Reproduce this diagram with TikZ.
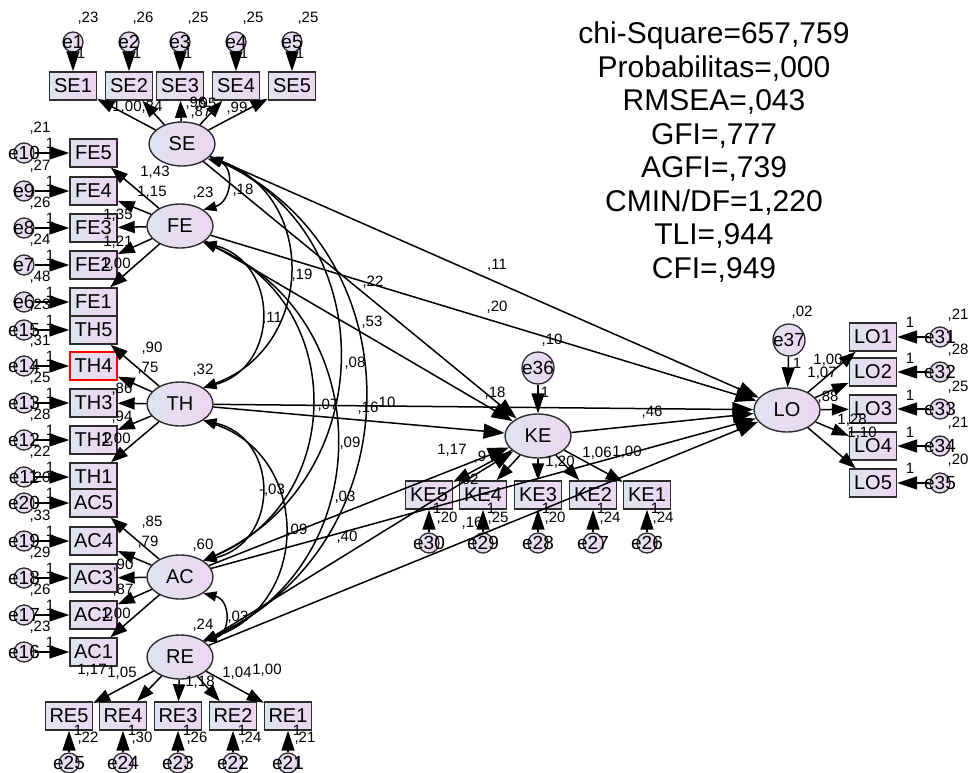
\documentclass[tikz,border=0pt]{standalone}
\usepackage{fontspec}
\setmainfont{Liberation Sans}
\usetikzlibrary{arrows.meta,shapes.geometric}

\definecolor{fillA}{RGB}{224,227,240}
\definecolor{fillB}{RGB}{236,214,241}
\definecolor{rimgray}{RGB}{45,45,45}

\tikzset{
  obsbox/.style={draw=rimgray, line width=1.4pt, left color=fillA, right color=fillB,
    minimum width=47pt, minimum height=28pt, inner sep=0pt, font=\fontsize{20}{20}\selectfont},
  latent/.style={ellipse, draw=rimgray, line width=1.4pt, left color=fillA, right color=fillB,
    minimum width=66pt, minimum height=44pt, inner sep=0pt, font=\fontsize{20}{20}\selectfont},
  errc/.style={circle, draw=rimgray, line width=1.3pt, left color=fillA, right color=fillB,
    minimum size=20pt, inner sep=0pt},
  bigerr/.style={errc, minimum size=32pt},
  errtxt/.style={font=\fontsize{19}{19}\selectfont, inner sep=0pt},
  est/.style={font=\fontsize{15}{15}\selectfont, inner sep=0pt},
  fitstat/.style={align=center, font=\fontsize{30}{33.5}\selectfont},
  reg/.style={line width=1.5pt, -{Triangle[length=17pt,width=12pt]}},
  errarr/.style={line width=1.5pt, -{Triangle[length=20pt,width=13pt]}},
  pathto/.style={line width=1.5pt, -{Triangle[length=21pt,width=15pt]}},
  cov/.style={line width=1.5pt, {Triangle[length=13pt,width=10pt]}-{Triangle[length=13pt,width=10pt]}}
}

\begin{document}
\begin{tikzpicture}[x=1pt,y=-1pt]
\useasboundingbox (0,0) rectangle (971,773);

% model fit
\node[fitstat] (gof) at (714,152) {chi-Square=657,759\\Probabilitas=,000\\RMSEA=,043\\GFI=,777\\AGFI=,739\\CMIN/DF=1,220\\TLI=,944\\CFI=,949};

% latent variables
\node[latent] (SE) at (182,144) {SE};
\node[latent] (FE) at (180,226) {FE};
\node[latent] (TH) at (180,404) {TH};
\node[latent] (AC) at (180,577) {AC};
\node[latent] (RE) at (180,657) {RE};
\node[latent] (KE) at (538,436) {KE};
\node[latent] (LO) at (787,410) {LO};
\node[bigerr, label={[errtxt]center:e36}] (e36) at (538,368) {};
\node[bigerr, label={[errtxt]center:e37}] (e37) at (789,340) {};

% indicators
\foreach \nm/\px/\er in {SE1/73/e1, SE2/129/e2, SE3/180/e3, SE4/236/e4, SE5/292/e5} {
  \node[obsbox] (\nm) at (\px,86) {\nm};
  \node[errc, label={[errtxt]center:\er}] (\er) at (\px,42) {};
}
\foreach \nm/\py/\er in {FE5/153/e10, FE4/191/e9, FE3/228/e8, FE2/265/e7, FE1/302/e6,
    TH5/330/e15, TH3/403/e13, TH2/440/e12, TH1/477/e11,
    AC5/503/e20, AC4/541/e19, AC3/578/e18, AC2/615/e17, AC1/652/e16} {
  \node[obsbox] (\nm) at (93.5,\py) {\nm};
  \node[errc, label={[errtxt]center:\er}] (\er) at (24,\py) {};
}
\node[obsbox, draw=red] (TH4) at (93.5,366) {TH4};
\node[errc, label={[errtxt]center:e14}] (e14) at (24,366) {};
\foreach \nm/\px/\er in {RE5/69/e25, RE4/123/e24, RE3/178/e23, RE2/233/e22, RE1/288/e21} {
  \node[obsbox] (\nm) at (\px,716) {\nm};
  \node[errc, label={[errtxt]center:\er}] (\er) at (\px,763) {};
}
\foreach \nm/\px/\er in {KE5/429/e30, KE4/483/e29, KE3/538/e28, KE2/593/e27, KE1/647/e26} {
  \node[obsbox] (\nm) at (\px,495) {\nm};
  \node[errc, label={[errtxt]center:\er}] (\er) at (\px,543) {};
}
\foreach \nm/\py/\er in {LO1/337/e31, LO2/372/e32, LO3/409/e33, LO4/446/e34, LO5/483/e35} {
  \node[obsbox] (\nm) at (873,\py) {\nm};
  \node[errc, label={[errtxt]center:\er}] (\er) at (940,\py) {};
}

% estimates
\foreach \px/\py/\txt [count=\i] in {
    88/18/{,23}, 143/18/{,26}, 198/18/{,25}, 253/18/{,25}, 308/18/{,25},
    81/53/1, 137/53/1, 188/53/1, 244/53/1, 300/53/1,
    127/107/{1,00}, 152/107/{,84}, 196/103/{,96}, 206/104/{,95}, 201/112/{,87}, 237/108/{,99},
    40/128/{,21}, 40/166/{,27}, 40/203/{,26}, 40/240/{,24}, 40/277/{,48},
    40/305/{,23}, 40/341/{,31}, 40/378/{,25}, 40/415/{,28}, 40/452/{,22},
    40/478/{,20}, 40/516/{,33}, 40/553/{,29}, 40/590/{,26}, 40/627/{,23},
    50/143/1, 50/181/1, 50/218/1, 50/255/1, 50/292/1,
    50/320/1, 50/356/1, 50/393/1, 50/430/1, 50/467/1,
    50/493/1, 50/531/1, 50/568/1, 50/605/1, 50/642/1}
  \node[est] (a\i) at (\px,\py) {\txt};

\foreach \px/\py/\txt [count=\i] in {
    155/172/{1,43}, 152/192/{1,15}, 118/215/{1,35}, 118/242/{1,21}, 116/264/{1,00},
    203/193/{,23}, 243/190/{,18},
    152/348/{,90}, 148/368/{,75}, 122/389/{,86}, 122/417/{,94}, 116/439/{1,00}, 203/370/{,32},
    152/522/{,85}, 148/542/{,79}, 123/565/{,90}, 123/590/{,87}, 116/614/{1,00}, 203/545/{,60},
    203/625/{,24}, 238/617/{,03},
    92/670/{1,17}, 122/673/{1,05}, 200/682/{1,18}, 237/673/{1,04}, 267/670/{1,00},
    88/738/{,22}, 142/738/{,30}, 197/738/{,26}, 251/738/{,24}, 305/738/{,21},
    78/730/1, 132/730/1, 187/730/1, 242/730/1, 297/730/1}
  \node[est] (b\i) at (\px,\py) {\txt};

\foreach \px/\py/\txt [count=\i] in {
    497/265/{,11}, 497/307/{,20}, 373/282/{,22}, 372/322/{,53}, 302/275/{,19}, 272/318/{,11},
    355/363/{,08}, 328/405/{,07}, 368/408/{,16}, 385/403/{,10}, 350/443/{,09},
    272/490/{-,03}, 345/497/{,03}, 297/530/{,09}, 347/537/{,40},
    545/392/1, 552/340/{,10}, 495/393/{,18}, 652/412/{,46},
    452/450/{1,17}, 480/457/{,9}, 468/480/{,02}, 560/462/{1,20}, 597/453/{1,06}, 627/452/{1,00},
    447/518/{,20}, 472/523/{,16}, 498/518/{,25}, 555/518/{,20}, 610/518/{,24}, 663/518/{,24},
    437/508/1, 491/508/1, 546/508/1, 601/508/1, 655/508/1,
    802/312/{,02}, 797/363/1, 828/360/{1,00}, 822/373/{1,07}, 828/397/{,88},
    852/420/{1,28}, 862/433/{1,10},
    958/315/{,21}, 958/350/{,28}, 958/387/{,25}, 958/423/{,21}, 958/460/{,20},
    910/322/1, 910/358/1, 910/395/1, 910/432/1, 910/468/1}
  \node[est] (c\i) at (\px,\py) {\txt};

% loadings and error terms
\foreach \lv/\a/\b/\c/\d/\e in {SE/SE1/SE2/SE3/SE4/SE5, FE/FE5/FE4/FE3/FE2/FE1,
    TH/TH5/TH4/TH3/TH2/TH1, AC/AC5/AC4/AC3/AC2/AC1, RE/RE5/RE4/RE3/RE2/RE1,
    KE/KE5/KE4/KE3/KE2/KE1, LO/LO1/LO2/LO3/LO4/LO5}
  \foreach \ind in {\a,\b,\c,\d,\e}
    \draw[reg] (\lv) -- (\ind);
\foreach \er/\ind in {e1/SE1, e2/SE2, e3/SE3, e4/SE4, e5/SE5,
    e10/FE5, e9/FE4, e8/FE3, e7/FE2, e6/FE1, e15/TH5, e14/TH4, e13/TH3, e12/TH2, e11/TH1,
    e20/AC5, e19/AC4, e18/AC3, e17/AC2, e16/AC1, e25/RE5, e24/RE4, e23/RE3, e22/RE2, e21/RE1,
    e30/KE5, e29/KE4, e28/KE3, e27/KE2, e26/KE1, e31/LO1, e32/LO2, e33/LO3, e34/LO4, e35/LO5,
    e36/KE, e37/LO}
  \draw[errarr] (\er) -- (\ind);

% covariances
\draw[cov] (SE.-30) .. controls (235,166) and (232,202) .. (FE.35);
\draw[cov] (SE.-25) .. controls (319,197) and (314,348) .. (TH.35);
\draw[cov] (SE.-25) .. controls (385,236) and (380,482) .. (AC.35);
\draw[cov] (SE.-25) .. controls (419,252) and (414,546) .. (RE.35);
\draw[cov] (FE.-35) .. controls (280,263) and (280,367) .. (TH.35);
\draw[cov] (FE.-35) .. controls (347,302) and (347,501) .. (AC.35);
\draw[cov] (FE.-35) .. controls (380,318) and (380,565) .. (RE.35);
\draw[cov] (TH.-35) .. controls (280,438) and (280,542) .. (AC.35);
\draw[cov] (TH.-35) .. controls (311,457) and (311,604) .. (RE.35);
\draw[cov] (AC.-35) .. controls (231,600) and (231,634) .. (RE.35);

% structural paths
\foreach \lv in {SE,FE,TH,AC,RE} {
  \draw[pathto] (\lv) -- (KE);
  \draw[pathto] (\lv) -- (LO);
}
\draw[pathto] (KE) -- (LO);
\end{tikzpicture}
\end{document}
